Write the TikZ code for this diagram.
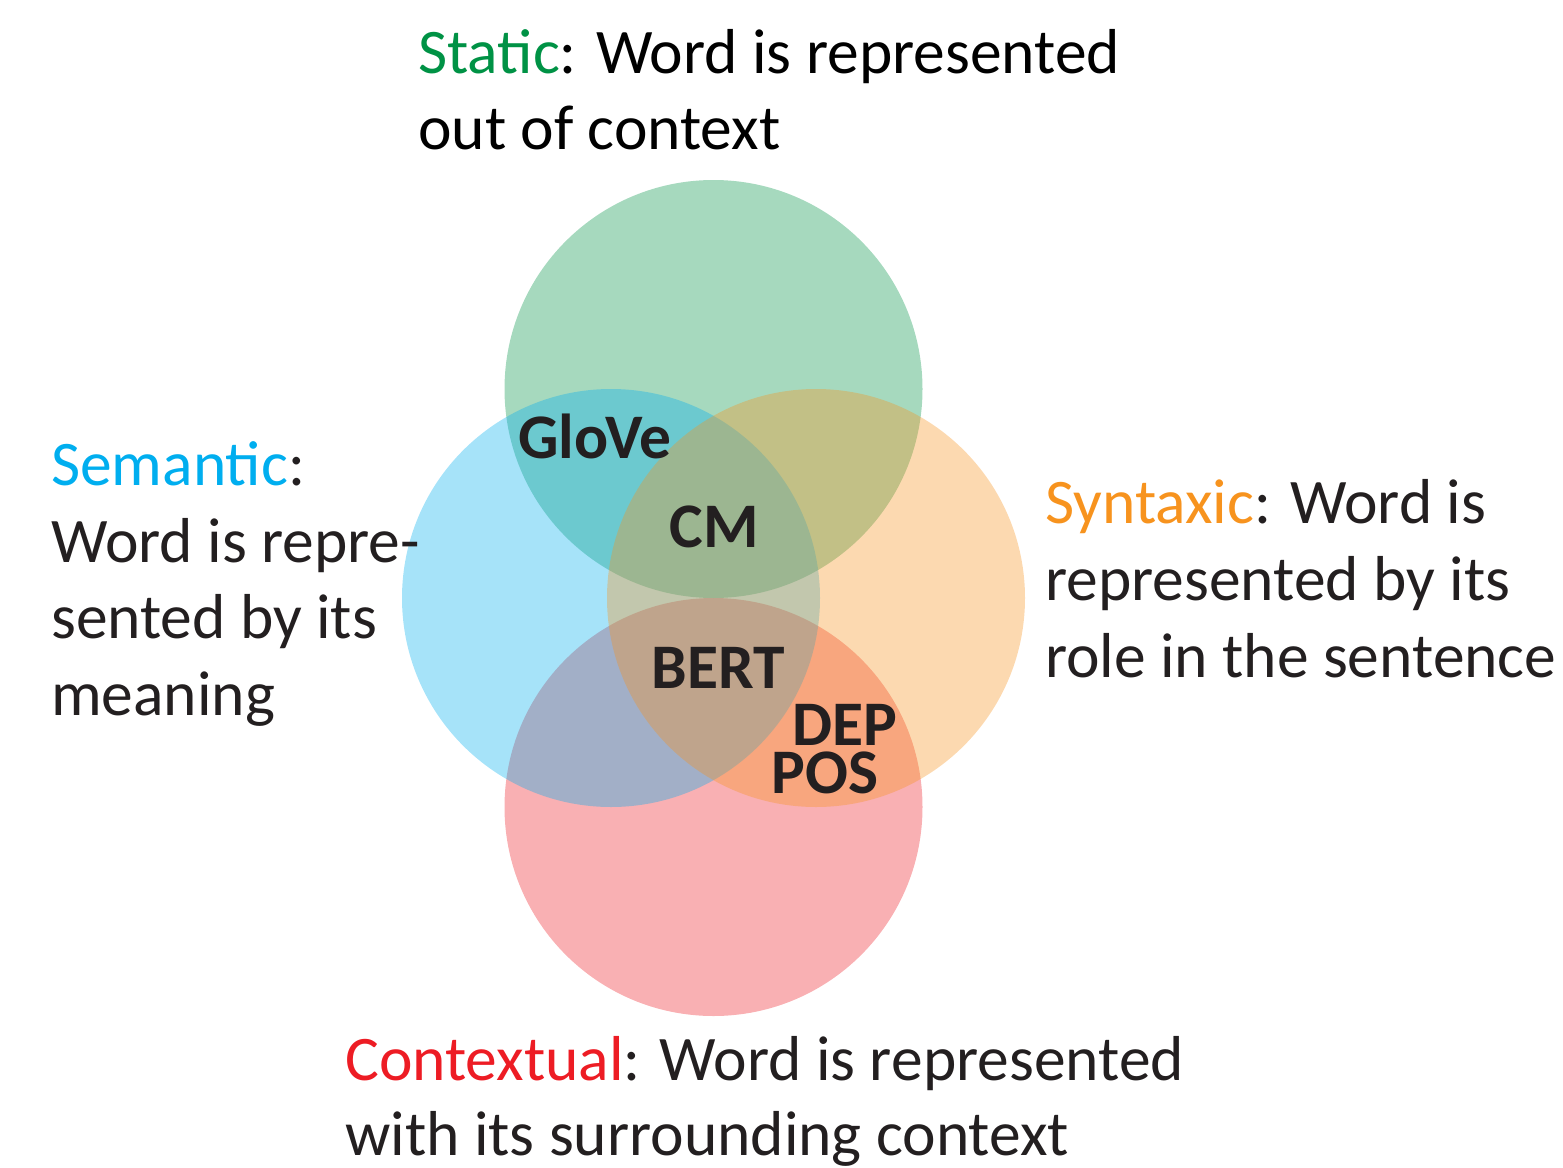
\documentclass[tikz,border=0pt]{standalone}
\usepackage{fontspec}
\setmainfont{Carlito}
\definecolor{cgreen}{HTML}{009245}
\definecolor{cblue}{HTML}{00AEEF}
\definecolor{corange}{HTML}{F7931E}
\definecolor{cred}{HTML}{ED1C24}
\definecolor{ink}{HTML}{231F20}
\begin{document}
\begin{tikzpicture}[x=1pt,y=-1pt,
  venn/.style={circle, inner sep=0pt, minimum size=418pt, fill opacity=0.35, draw=none},
  txt/.style={anchor=base west, inner sep=0pt, text=ink, font=\fontsize{63.5}{76}\selectfont},
  lab/.style={anchor=base, inner sep=0pt, text=ink, font=\fontsize{63.5}{72}\selectfont\bfseries}]
\useasboundingbox (0,0) rectangle (1563,1167);
% circles (stacking order matters for colour mixing)
\node[venn, fill=cgreen]  (cstatic) at (713.5,389) {};
\node[venn, fill=cred]    (cctx)    at (713.5,807) {};
\node[venn, fill=cblue]   (csem)    at (611,598) {};
\node[venn, fill=corange] (csyn)    at (816,598) {};
% labels inside
\node[lab] (glove) at (595,458) {GloVe};
\node[lab] (cm)    at (714.5,547) {CM};
\node[lab] (bert)  at (718,688) {BERT};
\node[lab] (dep)   at (845,745) {DEP};
\node[lab] (pos)   at (825,793) {POS};
% static
\node[txt, text=black] (st1) at (418,73) {\textcolor{cgreen}{Static}: Word is represented};
\node[txt, text=black] (st2) at (418,149) {out of context};
% semantic
\node[txt] (se1) at (51,485) {\textcolor{cblue}{Semantic}:};
\node[txt] (se2) at (51,562) {Word is repre-};
\node[txt] (se3) at (51,638) {sented by its};
\node[txt] (se4) at (51,715) {meaning};
% syntaxic
\node[txt] (sy1) at (1045,523) {\textcolor{corange}{Syntaxic}: Word is};
\node[txt] (sy2) at (1045,600) {represented by its};
\node[txt] (sy3) at (1045,677) {role in the sentence};
% contextual
\node[txt] (co1) at (345,1080) {\textcolor{cred}{Contextual}: Word is represented};
\node[txt] (co2) at (345,1155) {with its surrounding context};
\end{tikzpicture}
\end{document}
